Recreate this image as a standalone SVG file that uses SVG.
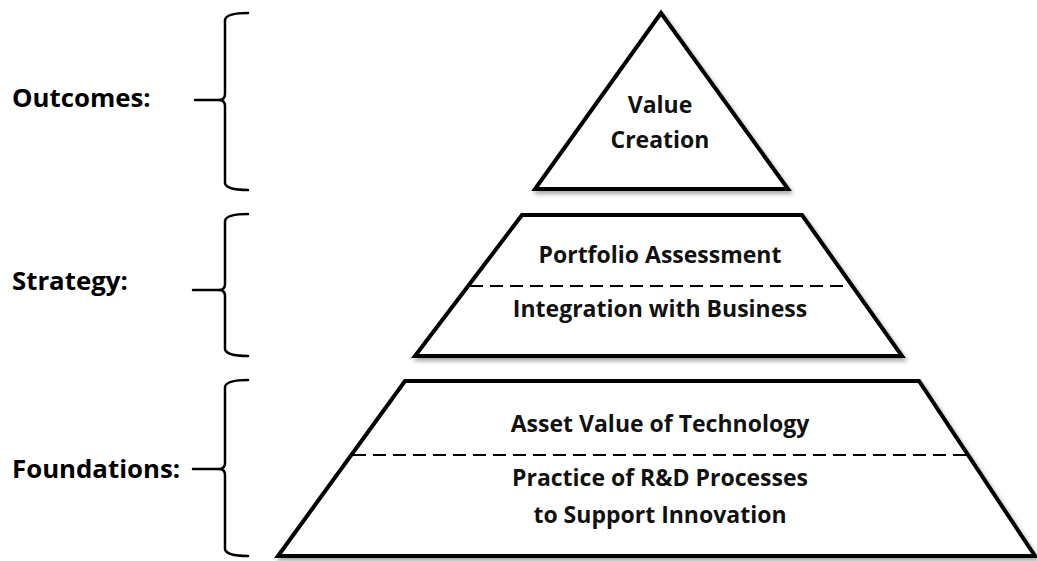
<svg xmlns="http://www.w3.org/2000/svg" width="1037" height="561" viewBox="0 0 1037 561">
  <style>
    .shape { fill: #ffffff; stroke: #000000; stroke-width: 4; stroke-linejoin: miter; }
    .dash { fill: none; stroke: #000000; stroke-width: 2.2; stroke-dasharray: 13 7; }
    .brace { fill: none; stroke: #000000; stroke-width: 2.5; stroke-linecap: round; stroke-linejoin: round; }
    .label { font-family: "Open Sans", "Liberation Sans", sans-serif; font-weight: bold; font-size: 25.8px; fill: #000000; }
    .txt { font-family: "Open Sans", "Liberation Sans", sans-serif; font-weight: bold; font-size: 23px; fill: #111111; text-anchor: middle; }
  </style>
  <defs>
    <filter id="shadow" x="-10%" y="-10%" width="120%" height="130%">
      <feDropShadow dx="2" dy="3" stdDeviation="2" flood-color="#000000" flood-opacity="0.35"/>
    </filter>
  </defs>
  <rect width="1037" height="561" fill="#ffffff"/>

  <g id="connectors">
    <path class="brace" d="M248,13 Q226,13 225,20 L225,94 Q225,100 219,100 Q225,100 225,106 L225,183 Q226,190 248,190"/>
    <line class="brace" x1="195" y1="100" x2="219" y2="100"/>
    <path class="brace" d="M248,214 Q226,214 225,221 L225,284 Q225,290 219,290 Q225,290 225,296 L225,349 Q226,356 248,356"/>
    <line class="brace" x1="193" y1="290" x2="219" y2="290"/>
    <path class="brace" d="M248,380 Q226,380 225,387 L225,463 Q225,469 219,469 Q225,469 225,475 L225,549 Q226,556 248,556"/>
    <line class="brace" x1="193" y1="469" x2="219" y2="469"/>
  </g>

  <g id="label-outcomes"><text class="label" x="12" y="107">Outcomes:</text></g>
  <g id="label-strategy"><text class="label" x="12" y="290">Strategy:</text></g>
  <g id="label-foundations"><text class="label" x="12" y="478">Foundations:</text></g>

  <g id="outcomes">
    <polygon class="shape" filter="url(#shadow)" points="661,13 788,189 535,189"/>
    <text class="txt" x="660" y="113">Value</text>
    <text class="txt" x="660" y="148">Creation</text>
  </g>

  <g id="strategy">
    <polygon class="shape" filter="url(#shadow)" points="522,215 802,215 902,356 415,356"/>
    <line class="dash" x1="470" y1="286" x2="850" y2="286"/>
    <text class="txt" x="660" y="263">Portfolio Assessment</text>
    <text class="txt" x="660" y="317">Integration with Business</text>
  </g>

  <g id="foundations">
    <polygon class="shape" filter="url(#shadow)" points="405,381 919,381 1035,556 278,556"/>
    <line class="dash" x1="353" y1="455" x2="966" y2="455"/>
    <text class="txt" x="660" y="432">Asset Value of Technology</text>
    <text class="txt" x="660" y="486">Practice of R&amp;D Processes</text>
    <text class="txt" x="660" y="523">to Support Innovation</text>
  </g>
</svg>
